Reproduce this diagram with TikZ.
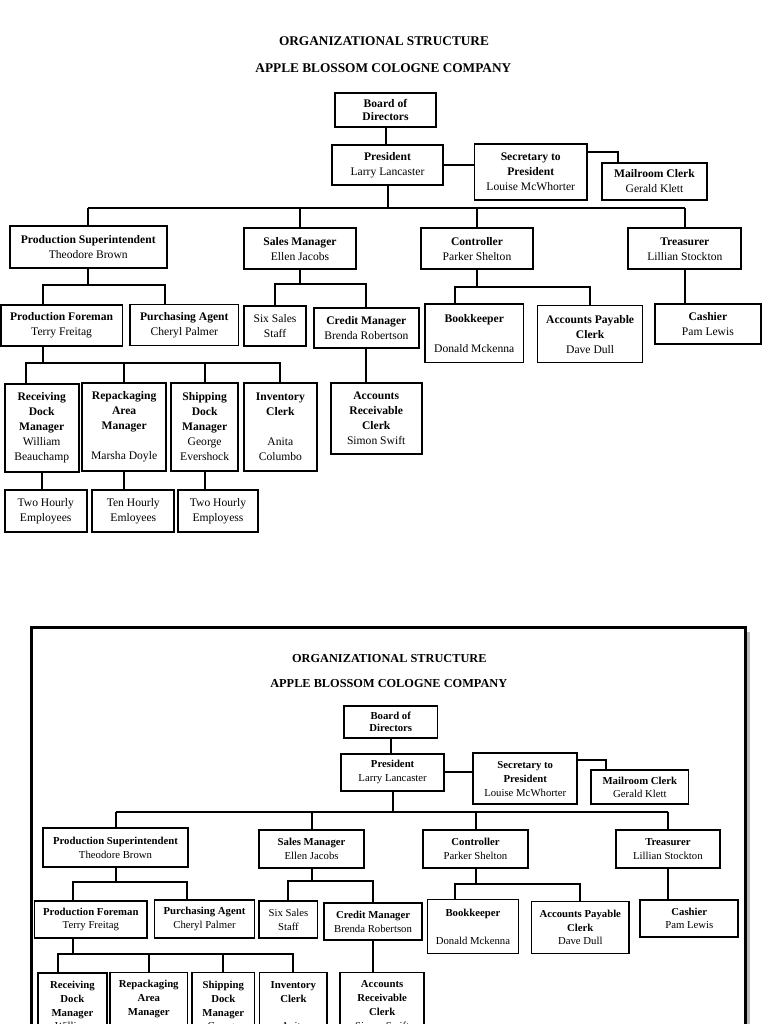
\documentclass[tikz,border=0pt]{standalone}
\usepackage{fontspec}
\setmainfont{Liberation Serif}
\usetikzlibrary{calc}

\tikzset{
  post/.style={draw=black, line width=1.9pt, inner sep=0pt, align=center,
    font=\fontsize{11.6}{15}\selectfont},
  thinpost/.style={post, line width=1.3pt},
  boxsize/.style 2 args={minimum width=#1pt, minimum height=#2pt},
  link/.style={draw=black, line width=2pt},
  heading/.style={inner sep=0pt, font=\fontsize{13.3}{15}\selectfont\bfseries}
}

\newcommand{\drawchart}{%
  \node[heading] (title) at (384,41) {ORGANIZATIONAL STRUCTURE};
  \node[heading] (company) at (383.3,67.7) {APPLE BLOSSOM COLOGNE COMPANY};
  % bus lines
  \coordinate (bus1) at (0,208.3);
  \coordinate (bus2) at (0,285);
  \coordinate (bus3) at (0,284);
  \coordinate (bus4) at (0,286.7);
  \coordinate (bus5) at (0,362.7);
  % top
  \node[post, boxsize={101}{34.6}, font=\fontsize{11.6}{12.7}\selectfont] (board) at (385.5,110) {\textbf{Board of}\\\textbf{Directors}};
  \node[post, boxsize={111}{40}] (pres) at (387.5,165) {\textbf{President}\\Larry Lancaster};
  \node[post, boxsize={112.5}{55.7}] (sec) at (530.75,172.15) {\textbf{Secretary to}\\\textbf{President}\\Louise McWhorter};
  \node[post, boxsize={105}{37.3}] (mail) at (654.5,181.35) {\textbf{Mailroom Clerk}\\Gerald Klett};
  % second row
  \node[post, boxsize={157}{42.3}] (psup) at (88.25,247.15) {\textbf{Production Superintendent}\\Theodore Brown};
  \node[post, boxsize={112.8}{41}] (sales) at (300,248.8) {\textbf{Sales Manager}\\Ellen Jacobs};
  \node[post, boxsize={112.7}{41}] (ctrl) at (477,248.8) {\textbf{Controller}\\Parker Shelton};
  \node[post, boxsize={112.8}{41}] (treas) at (684.8,248.8) {\textbf{Treasurer}\\Lillian Stockton};
  % third row
  \node[post, boxsize={121.7}{41}] (forem) at (61.6,325.5) {\textbf{Production Foreman}\\Terry Freitag};
  \node[thinpost, boxsize={108.7}{41.4}] (purch) at (184.35,325) {\textbf{Purchasing Agent}\\Cheryl Palmer};
  \node[post, boxsize={62.8}{40.3}] (six) at (275,325.85) {Six Sales\\Staff};
  \node[post, boxsize={105.3}{40}] (credit) at (366.35,327.7) {\textbf{Credit Manager}\\Brenda Robertson};
  \node[thinpost, boxsize={98.5}{58.7}] (book) at (474.25,333.35) {\textbf{Bookkeeper}\\~\\Donald Mckenna};
  \node[thinpost, boxsize={104.9}{57}] (apc) at (590.15,334.2) {\textbf{Accounts Payable}\\\textbf{Clerk}\\Dave Dull};
  \node[post, boxsize={105.8}{40.3}] (cash) at (707.9,324.15) {\textbf{Cashier}\\Pam Lewis};
  % fourth row
  \node[post, boxsize={74}{87.4}] (recv) at (41.7,428) {\textbf{Receiving}\\\textbf{Dock}\\\textbf{Manager}\\William\\Beauchamp};
  \node[post, boxsize={83.7}{87.4}] (repk) at (124.15,427) {\textbf{Repackaging}\\\textbf{Area}\\\textbf{Manager}\\~\\Marsha Doyle};
  \node[post, boxsize={67.3}{87.4}] (ship) at (204.65,427) {\textbf{Shipping}\\\textbf{Dock}\\\textbf{Manager}\\George\\Evershock};
  \node[post, boxsize={73.3}{87.4}] (inv) at (280.35,427) {\textbf{Inventory}\\\textbf{Clerk}\\~\\Anita\\Columbo};
  \node[post, boxsize={91}{70.7}] (ar) at (376.2,418.65) {\textbf{Accounts}\\\textbf{Receivable}\\\textbf{Clerk}\\Simon Swift};
  % hourly staff
  \node[post, boxsize={82}{41.7}] (emp1) at (45.7,510.85) {Two Hourly\\Employees};
  \node[post, boxsize={82}{41.7}] (emp2) at (133.3,510.85) {Ten Hourly\\Emloyees};
  \node[post, boxsize={80.6}{41.7}] (emp3) at (218,510.85) {Two Hourly\\Employess};
  % connectors
  \draw[link] (board.south) -- (board.south |- pres.north);
  \draw[link] (pres.east) -- (pres.east -| sec.west);
  \draw[link] ([yshift=-8.5pt]sec.north east) -| ([xshift=17pt]mail.north west);
  \draw[link] (pres.south) -- (pres.south |- bus1);
  \draw[link] (psup.north |- bus1) -- (treas.north |- bus1);
  \foreach \n in {psup,sales,ctrl,treas}
    \draw[link] (\n.north) -- (\n.north |- bus1);
  \coordinate (forem-up) at ([xshift=-19pt]forem.north);
  \coordinate (forem-down) at ([xshift=-19pt]forem.south);
  \coordinate (purch-up) at ([xshift=-19pt]purch.north);
  \draw[link] (psup.south) -- (psup.south |- bus2);
  \draw[link] (forem-up) -- (forem-up |- bus2) -- (purch-up |- bus2) -- (purch-up);
  \draw[link] (sales.south) -- (sales.south |- bus3);
  \draw[link] (six.north) -- (six.north |- bus3) -- (credit.north |- bus3) -- (credit.north);
  \coordinate (book-up) at ([xshift=-19pt]book.north);
  \draw[link] (ctrl.south) -- (ctrl.south |- bus4);
  \draw[link] (book-up) -- (book-up |- bus4) -- (apc.north |- bus4) -- (apc.north);
  \draw[link] (treas.south) -- (treas.south |- cash.north);
  \coordinate (recv-up) at ([xshift=-15.7pt]recv.north);
  \draw[link] (forem-down) -- (forem-down |- bus5);
  \draw[link] (recv-up) -- (recv-up |- bus5) -- (inv.north |- bus5) -- (inv.north);
  \foreach \n in {repk,ship}
    \draw[link] (\n.north) -- (\n.north |- bus5);
  \draw[link] (credit.south) -- (credit.south |- ar.north);
  \draw[link] (recv.south) -- (recv.south |- emp1.north);
  \draw[link] (repk.south) -- (repk.south |- emp2.north);
  \draw[link] (ship.south) -- (ship.south |- emp3.north);
}

\begin{document}
\begin{tikzpicture}[x=1pt,y=-1pt]
\useasboundingbox (0,0) rectangle (768,1024);
\clip (0,0) rectangle (768,1024);
\drawchart
% framed copy
\draw[line width=2.7pt] (31.5,1030) |- (745.5,627.7) -- (745.5,1030);
\draw[gray!55, line width=2.5pt] (748.5,632) -- (748.5,1030);
\begin{scope}[shift={(33.8,621)}, xscale=0.926, yscale=0.917, transform shape]
\drawchart
\end{scope}
\end{tikzpicture}
\end{document}
